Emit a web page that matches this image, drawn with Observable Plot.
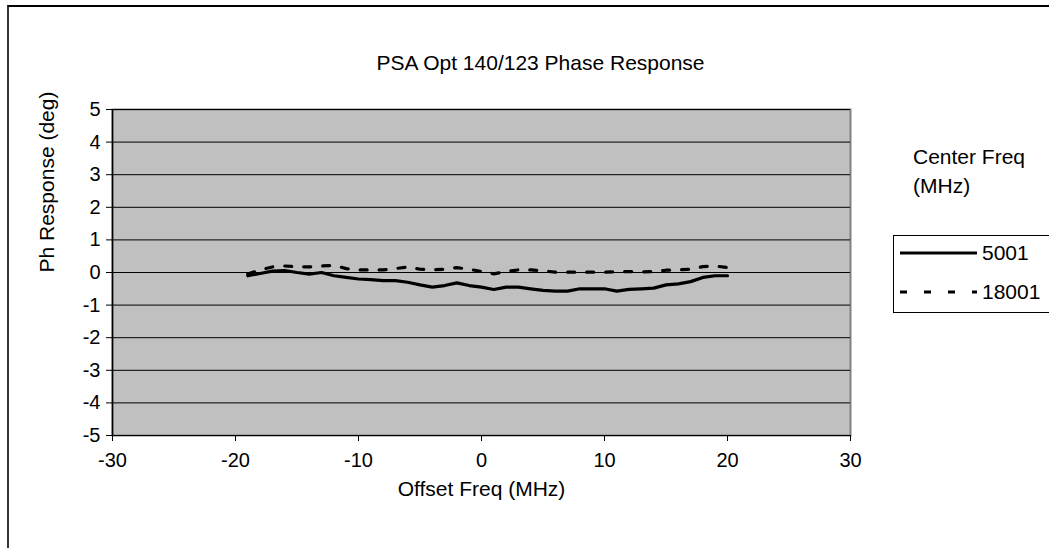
<!DOCTYPE html>
<html><head><meta charset="utf-8">
<script src="https://cdn.jsdelivr.net/npm/d3@7"></script>
<script src="https://cdn.jsdelivr.net/npm/@observablehq/plot@0.6"></script>
<style>
body{margin:0;background:#fff;font-family:"Liberation Sans",Arial,sans-serif}
#wrap{position:relative;width:1049px;height:548px;overflow:hidden}
#outer{position:absolute;left:7px;top:5px;width:1100px;height:600px;border-top:2px solid #000;border-left:2px solid #333}
#legend{position:absolute;left:0;top:0}
</style>
</head><body><div id="wrap"><div id="outer"></div><div id="chart"></div></div>
<script>
const offsets = [-19,-18,-17,-16,-15,-14,-13,-12,-11,-10,-9,-8,-7,-6,-5,-4,-3,-2,-1,0,1,2,3,4,5,6,7,8,9,10,11,12,13,14,15,16,17,18,19,20];
const ph5001 = [-0.1,-0.03,0.04,0.06,0.0,-0.05,0.0,-0.1,-0.15,-0.2,-0.22,-0.25,-0.25,-0.3,-0.38,-0.45,-0.4,-0.32,-0.4,-0.45,-0.52,-0.45,-0.45,-0.5,-0.55,-0.57,-0.57,-0.5,-0.5,-0.5,-0.57,-0.52,-0.5,-0.48,-0.38,-0.35,-0.28,-0.15,-0.1,-0.1];
const ph18001 = [-0.05,0.08,0.17,0.2,0.18,0.17,0.2,0.22,0.12,0.08,0.08,0.08,0.12,0.17,0.1,0.08,0.1,0.15,0.1,0.03,-0.04,0.03,0.08,0.08,0.05,0.01,0.01,0.01,0.01,0.01,0.02,0.03,0.02,0.03,0.07,0.08,0.1,0.18,0.2,0.15];
const seriesNames = ["5001","18001"];
const xTicks = [-30,-20,-10,0,10,20,30];
const yTicks = [-5,-4,-3,-2,-1,0,1,2,3,4,5];
const chartTitle = "PSA Opt 140/123 Phase Response";
const xTitle = "Offset Freq (MHz)";
const yTitle = "Ph Response (deg)";
const legendTitle = ["Center Freq", "(MHz)"];

const rows = [];
offsets.forEach((o,i)=>{rows.push({x:o,y:ph5001[i],s:seriesNames[0]});});
offsets.forEach((o,i)=>{rows.push({x:o,y:ph18001[i],s:seriesNames[1]});});

const FS = "20px";
const FT = "21px";
const chart = Plot.plot({
  width:1049, height:548,
  marginLeft:112, marginRight:199, marginTop:109, marginBottom:113,
  style:{fontFamily:"'Liberation Sans',Arial,sans-serif", fontSize:FS, color:"#000", background:"transparent", overflow:"visible"},
  x:{domain:[-30,30]},
  y:{domain:[-5,5]},
  marks:[
    Plot.frame({fill:"#c0c0c0", stroke:"#808080", strokeWidth:2}),
    Plot.ruleY(yTicks, {stroke:"#000", strokeWidth:1}),
    Plot.ruleX([-30], {stroke:"#000", strokeWidth:1.5}),
    Plot.line(rows.filter(d=>d.s===seriesNames[0]), {x:"x", y:"y", stroke:"#000", strokeWidth:3.2, curve:"linear"}),
    Plot.line(rows.filter(d=>d.s===seriesNames[1]), {x:"x", y:"y", stroke:"#000", strokeWidth:3.2, strokeDasharray:"7,12"}),
    Plot.axisY(yTicks, {label:null, tickSize:6, tickPadding:6, fontSize:FS, tickFormat:d=>String(d)}),
    Plot.axisX(xTicks, {label:null, tickSize:6, tickPadding:11, fontSize:FS, tickFormat:d=>String(d)}),
    Plot.text([chartTitle], {frameAnchor:"top", dy:-54, dx:59, fontSize:FT, text:d=>d}),
    Plot.text([xTitle], {frameAnchor:"bottom", dy:60, fontSize:FT, text:d=>d}),
    Plot.text([yTitle], {frameAnchor:"left", dx:-65, rotate:-90, fontSize:FT, text:d=>d})
  ]
});
document.getElementById("chart").appendChild(chart);

// legend overlay
const lg = d3.select("#wrap").append("svg").attr("id","legend").attr("width",1049).attr("height",548)
  .style("font-family","'Liberation Sans',Arial,sans-serif").style("font-size",FT);
lg.append("text").attr("x",913).attr("y",164).text(legendTitle[0]);
lg.append("text").attr("x",913).attr("y",193).text(legendTitle[1]);
lg.append("rect").attr("x",893.5).attr("y",235.5).attr("width",160).attr("height",77).attr("fill","#fff").attr("stroke","#000");
const items = [{name:seriesNames[0],dash:null,y:253},{name:seriesNames[1],dash:"7,17",y:292}];
items.forEach(it=>{
  lg.append("line").attr("x1",900).attr("x2",977).attr("y1",it.y).attr("y2",it.y).attr("stroke","#000").attr("stroke-width",3.2).attr("stroke-dasharray",it.dash);
  lg.append("text").attr("x",982).attr("y",it.y+7).text(it.name);
});
</script>
</body></html>
